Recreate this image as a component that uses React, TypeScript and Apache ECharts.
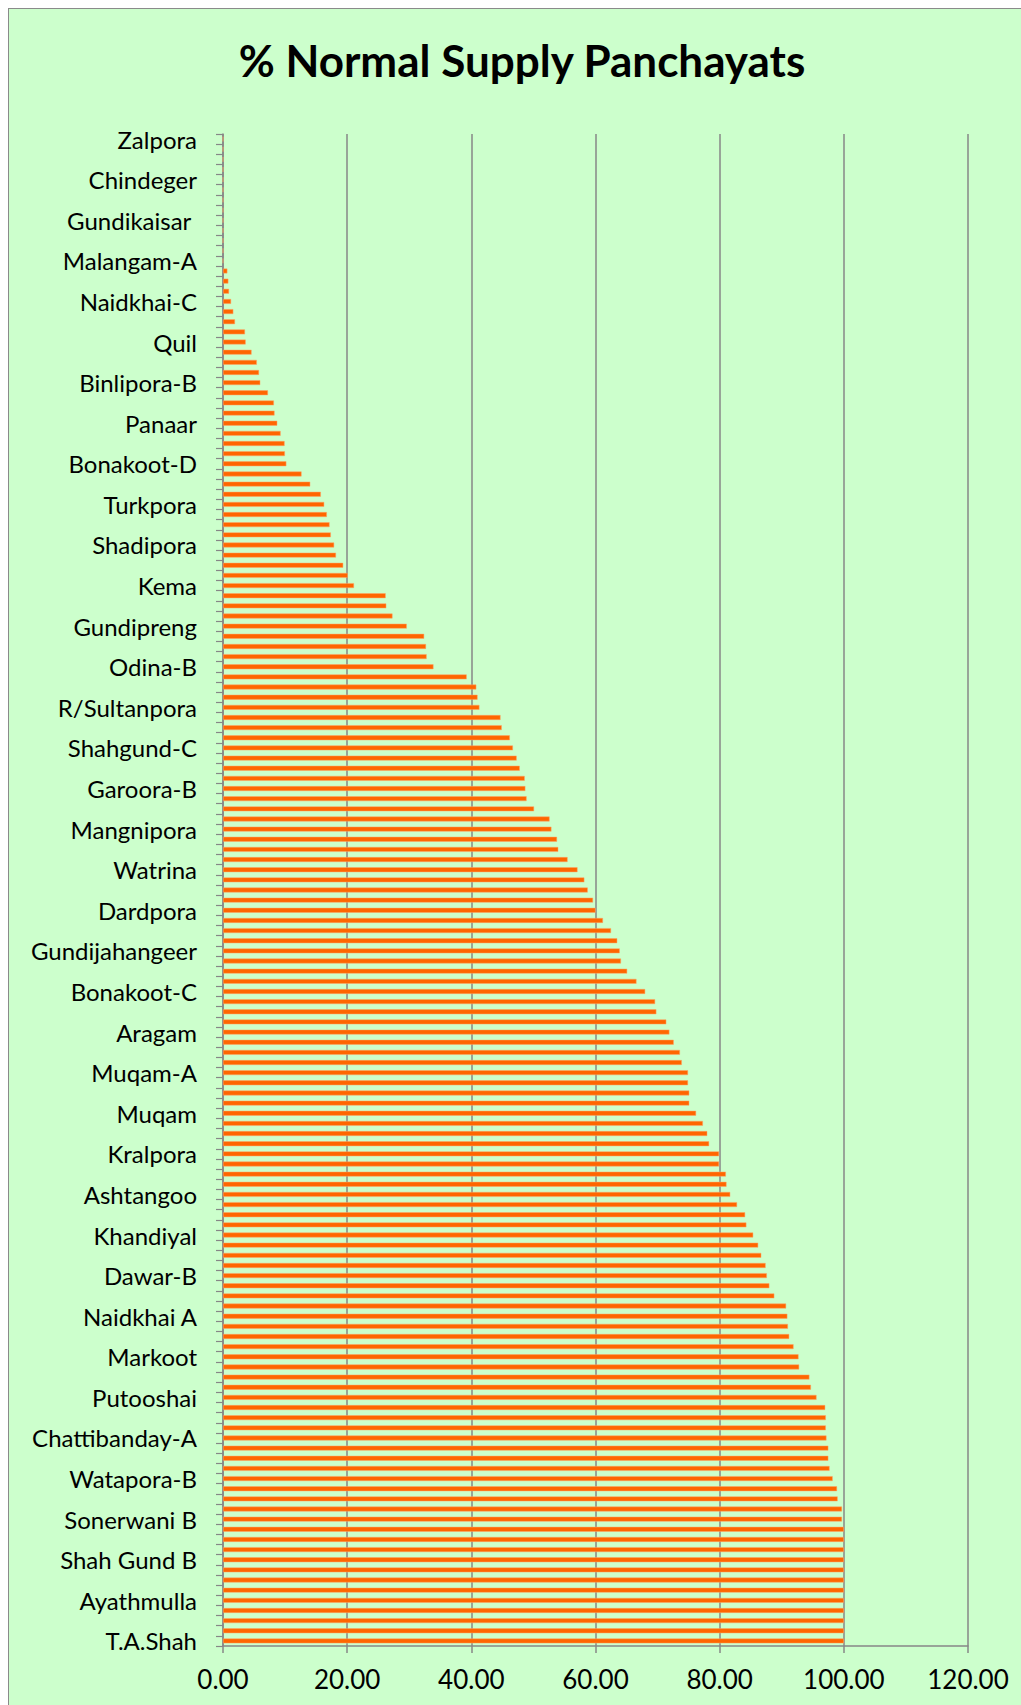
import React, { useEffect, useRef } from "react";
import * as echarts from "echarts";

const TITLE = "% Normal Supply Panchayats";

// Panchayats whose names are printed on the axis (every 4th row, top to bottom)
const LABELED_PANCHAYATS = [
  "Zalpora", "Chindeger", "Gundikaisar ", "Malangam-A", "Naidkhai-C", "Quil",
  "Binlipora-B", "Panaar", "Bonakoot-D", "Turkpora", "Shadipora", "Kema",
  "Gundipreng", "Odina-B", "R/Sultanpora", "Shahgund-C", "Garoora-B", "Mangnipora",
  "Watrina", "Dardpora", "Gundijahangeer", "Bonakoot-C", "Aragam", "Muqam-A",
  "Muqam", "Kralpora", "Ashtangoo", "Khandiyal", "Dawar-B", "Naidkhai A",
  "Markoot", "Putooshai", "Chattibanday-A", "Watapora-B", "Sonerwani B", "Shah Gund B",
  "Ayathmulla", "T.A.Shah",
];

// % normal supply, one value per panchayat row, top to bottom
const VALUES = [
  0, 0, 0, 0, 0, 0, 0, 0, 0, 0, 0, 0, 0,
  0.7, 0.86, 0.97, 1.3, 1.66, 1.93, 3.54, 3.65, 4.6, 5.45,
  5.8, 6.0, 7.24, 8.2, 8.3, 8.74, 9.28, 9.92, 9.97, 10.2,
  12.65, 14.05, 15.76, 16.3, 16.73, 17.16, 17.37, 17.9, 18.2, 19.36,
  20.1, 21.1, 26.2, 26.3, 27.3, 29.6, 32.4, 32.7, 32.8, 33.9,
  39.25, 40.8, 41.0, 41.3, 44.7, 44.9, 46.2, 46.7, 47.3, 47.8,
  48.6, 48.7, 48.9, 50.1, 52.6, 52.9, 53.8, 54.0, 55.5, 57.1,
  58.2, 58.75, 59.6, 60.0, 61.2, 62.5, 63.5, 63.9, 64.1, 65.1,
  66.6, 68.0, 69.6, 69.8, 71.4, 71.9, 72.6, 73.6, 73.9, 74.9,
  74.9, 75.1, 75.1, 76.2, 77.3, 78.0, 78.3, 79.9, 79.9, 81.0,
  81.1, 81.7, 82.8, 84.1, 84.3, 85.4, 86.2, 86.7, 87.4, 87.6,
  88.0, 88.8, 90.7, 90.9, 91.0, 91.2, 91.9, 92.7, 92.8, 94.45,
  94.7, 95.6, 97.0, 97.1, 97.1, 97.2, 97.5, 97.5, 97.7, 98.2,
  98.9, 99.0, 99.7, 99.7, 100, 100, 100, 100, 100, 100,
  100, 100, 100, 100, 100, 100,
];

const X_MIN = 0;
const X_MAX = 120;
const X_STEP = 20;

const LABEL_EVERY = 4;

export default function App() {
  const ref = useRef<HTMLDivElement>(null);

  useEffect(() => {
    if (!ref.current) return;
    const chart = echarts.init(ref.current, null, { renderer: "svg" });

    const categories = VALUES.map((_, i) =>
      i % LABEL_EVERY === 0 ? LABELED_PANCHAYATS[i / LABEL_EVERY] : `row ${i + 1}`
    );

    const grey = "#878787";

    chart.setOption({
      animation: false,
      backgroundColor: "transparent",
      title: {
        text: TITLE,
        left: 508,
        textAlign: "center",
        top: 24,
        textStyle: {
          fontFamily: "Lato",
          fontWeight: "bold",
          fontSize: 44,
          color: "#000000",
        },
      },
      grid: { left: 214, top: 125, right: 53, bottom: 59, containLabel: false },
      xAxis: {
        type: "value",
        min: X_MIN,
        max: X_MAX,
        interval: X_STEP,
        axisLine: { show: true, lineStyle: { color: grey, width: 1.5 } },
        axisTick: { show: true, length: 7, lineStyle: { color: grey, width: 1.5 } },
        splitLine: { show: true, lineStyle: { color: grey, width: 1.5 } },
        axisLabel: {
          margin: 20,
          fontFamily: "Lato",
          fontSize: 26,
          color: "#000000",
          formatter: (v: number) => v.toFixed(2),
        },
      },
      yAxis: {
        type: "category",
        inverse: true,
        data: categories,
        axisLine: { show: true, lineStyle: { color: grey, width: 1.5 } },
        axisTick: { show: true, interval: 0, length: 7, lineStyle: { color: grey, width: 1.2 } },
        splitLine: { show: false },
        axisLabel: {
          interval: LABEL_EVERY - 1,
          margin: 26,
          fontFamily: "Lato",
          fontSize: 24,
          color: "#000000",
        },
      },
      series: [
        {
          type: "bar",
          data: VALUES,
          barCategoryGap: "52%",
          itemStyle: { color: "#FF6600", borderColor: "#FFA566", borderWidth: 0.5 },
        },
      ],
    });

    return () => chart.dispose();
  }, []);

  return (
    <div
      style={{
        position: "fixed",
        left: 8,
        top: 8,
        width: 1013,
        height: 1697,
        boxSizing: "border-box",
        borderLeft: "1px solid #8a8a8a",
        borderTop: "1px solid #8a8a8a",
        background: "#CCFFCC",
      }}
    >
      <div ref={ref} style={{ width: 1012, height: 1696 }} />
    </div>
  );
}
